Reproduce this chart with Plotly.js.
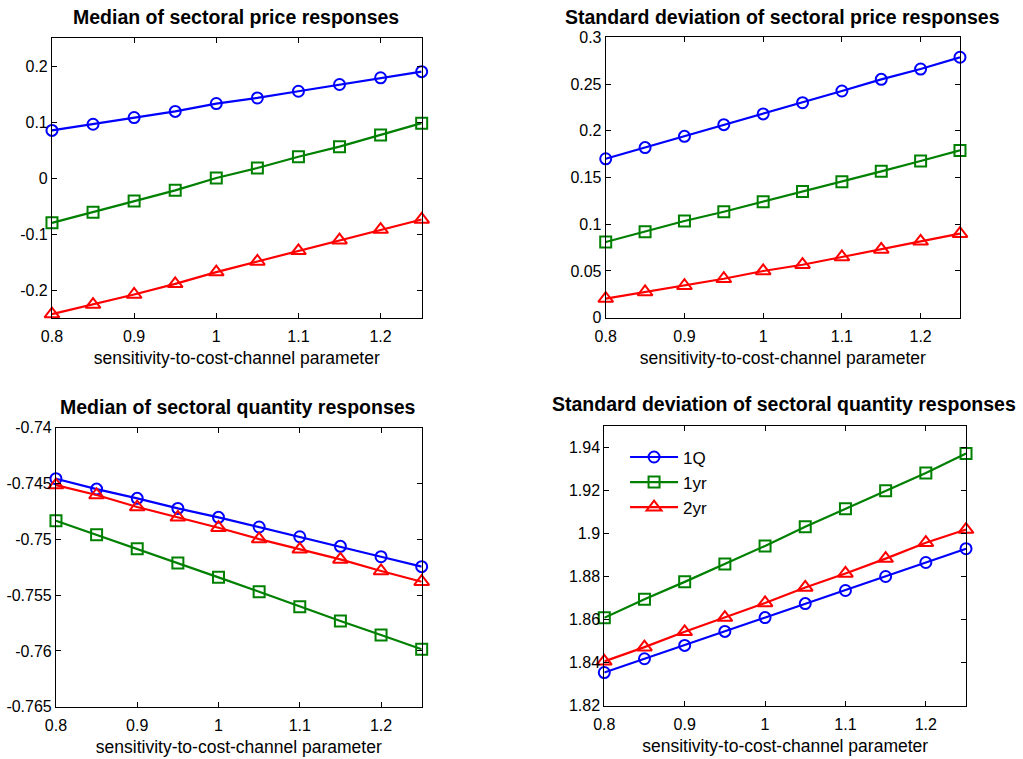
<!DOCTYPE html>
<html>
<head>
<meta charset="utf-8">
<script src="https://cdn.plot.ly/plotly-3.0.1.min.js"></script>
<style>html,body{margin:0;padding:0;background:#fff;}#chart{width:1023px;height:759px;}</style>
</head>
<body>
<div id="chart"></div>
<script>
// sensitivity-to-cost-channel parameter
const xParam = [0.8, 0.85, 0.9, 0.95, 1.0, 1.05, 1.1, 1.15, 1.2, 1.25];
const seriesNames = ['1Q', '1yr', '2yr'];

// Median of sectoral price responses
const medPrice1Q  = [0.085, 0.096, 0.108, 0.119, 0.133, 0.143, 0.155, 0.167, 0.179, 0.190];
const medPrice1yr = [-0.080, -0.061, -0.041, -0.022, 0.000, 0.018, 0.038, 0.056, 0.077, 0.098];
const medPrice2yr = [-0.243, -0.226, -0.208, -0.189, -0.168, -0.149, -0.130, -0.111, -0.092, -0.074];

// Standard deviation of sectoral price responses
const sdPrice1Q  = [0.170, 0.182, 0.194, 0.2065, 0.218, 0.230, 0.2425, 0.255, 0.266, 0.2786];
const sdPrice1yr = [0.081, 0.092, 0.1035, 0.1134, 0.124, 0.135, 0.1455, 0.1566, 0.1676, 0.179];
const sdPrice2yr = [0.0205, 0.0275, 0.0342, 0.0417, 0.050, 0.0567, 0.065, 0.073, 0.0817, 0.0899];

// Median of sectoral quantity responses
const medQty1Q  = [-0.74457, -0.74550, -0.74633, -0.74723, -0.74803, -0.74890, -0.74977, -0.75063, -0.75156, -0.75245];
const medQty1yr = [-0.74833, -0.74959, -0.75084, -0.75213, -0.75341, -0.75470, -0.75604, -0.75732, -0.75858, -0.75986];
const medQty2yr = [-0.74514, -0.74603, -0.74711, -0.74803, -0.74896, -0.74998, -0.75090, -0.75180, -0.75284, -0.75380];

// Standard deviation of sectoral quantity responses
const sdQty1Q  = [1.8354, 1.8418, 1.8480, 1.8545, 1.8609, 1.8674, 1.8735, 1.8800, 1.8865, 1.8929];
const sdQty1yr = [1.8608, 1.8694, 1.8775, 1.8858, 1.8942, 1.9031, 1.9115, 1.9198, 1.9280, 1.9371];
const sdQty2yr = [1.8406, 1.8472, 1.8543, 1.8609, 1.8677, 1.8749, 1.8814, 1.8883, 1.8957, 1.9018];

// Tick labels
const xTickVals = [0.8, 0.9, 1.0, 1.1, 1.2];
const xTickText = ['0.8', '0.9', '1', '1.1', '1.2'];
const y1TickVals = [-0.2, -0.1, 0, 0.1, 0.2];
const y1TickText = ['-0.2', '-0.1', '0', '0.1', '0.2'];
const y2TickVals = [0, 0.05, 0.1, 0.15, 0.2, 0.25, 0.3];
const y2TickText = ['0', '0.05', '0.1', '0.15', '0.2', '0.25', '0.3'];
const y3TickVals = [-0.765, -0.76, -0.755, -0.75, -0.745, -0.74];
const y3TickText = ['-0.765', '-0.76', '-0.755', '-0.75', '-0.745', '-0.74'];
const y4TickVals = [1.82, 1.84, 1.86, 1.88, 1.9, 1.92, 1.94];
const y4TickText = ['1.82', '1.84', '1.86', '1.88', '1.9', '1.92', '1.94'];

const panelTitles = [
  'Median of sectoral price responses',
  'Standard deviation of sectoral price responses',
  'Median of sectoral quantity responses',
  'Standard deviation of sectoral quantity responses'
];
const xTitle = 'sensitivity-to-cost-channel parameter';

const colors = ['#0000ff', '#008000', '#ff0000'];
const symbols = ['circle-open', 'square-open', 'triangle-up-open'];
const msizes = [11, 11, 13];

const panels = [
  [medPrice1Q, medPrice1yr, medPrice2yr],
  [sdPrice1Q, sdPrice1yr, sdPrice2yr],
  [medQty1Q, medQty1yr, medQty2yr],
  [sdQty1Q, sdQty1yr, sdQty2yr]
];

const traces = [];
panels.forEach((p, pi) => {
  const ax = pi === 0 ? '' : String(pi + 1);
  p.forEach((ys, si) => {
    traces.push({
      x: xParam, y: ys, type: 'scatter', mode: 'lines+markers',
      name: seriesNames[si],
      xaxis: 'x' + ax, yaxis: 'y' + ax,
      showlegend: pi === 3,
      line: {color: colors[si], width: 2.2},
      marker: {symbol: symbols[si], size: msizes[si], color: colors[si], line: {color: colors[si], width: 2}},
      cliponaxis: false
    });
  });
});

const font = 'Liberation Sans, Arial, sans-serif';
function xa(domain, anchor) {
  return {
    domain: domain, anchor: anchor, range: [0.8, 1.25],
    tickvals: xTickVals, ticktext: xTickText,
    ticks: 'inside', ticklen: 5, tickwidth: 1, tickcolor: '#000',
    ticklabelstandoff: 4,
    showline: true, linecolor: '#000', linewidth: 1, mirror: 'ticks',
    showgrid: false, zeroline: false,
    tickfont: {family: font, size: 16, color: '#000'},
    title: {text: xTitle, font: {family: font, size: 17.5, color: '#000'}, standoff: 7}
  };
}
function ya(domain, anchor, range, tv, tt) {
  return {
    domain: domain, anchor: anchor, range: range,
    tickvals: tv, ticktext: tt,
    ticks: 'inside', ticklen: 5, tickwidth: 1, tickcolor: '#000',
    showline: true, linecolor: '#000', linewidth: 1, mirror: 'ticks',
    showgrid: false, zeroline: false,
    tickfont: {family: font, size: 16, color: '#000'}
  };
}

const layout = {
  width: 1023, height: 759,
  margin: {l: 0, r: 0, t: 0, b: 0},
  paper_bgcolor: '#fff', plot_bgcolor: '#fff',
  font: {family: font, color: '#000'},
  xaxis:  xa([0.0508, 0.4122], 'y'),
  yaxis:  ya([0.5810, 0.9499], 'x', [-0.25, 0.25], y1TickVals, y1TickText),
  xaxis2: xa([0.5921, 0.9384], 'y2'),
  yaxis2: ya([0.5814, 0.9509], 'x2', [0, 0.3], y2TickVals, y2TickText),
  xaxis3: xa([0.0547, 0.4122], 'y3'),
  yaxis3: ya([0.0689, 0.4365], 'x3', [-0.765, -0.74], y3TickVals, y3TickText),
  xaxis4: xa([0.5907, 0.9443], 'y4'),
  yaxis4: ya([0.0702, 0.4391], 'x4', [1.82, 1.95], y4TickVals, y4TickText),
  showlegend: true,
  legend: {
    x: 0.611, y: 0.421, xanchor: 'left', yanchor: 'top',
    bgcolor: 'rgba(255,255,255,0)', borderwidth: 0,
    font: {family: font, size: 17, color: '#000'},
    itemwidth: 48,
    tracegroupgap: 0
  },
  annotations: [
    {text: '<b>' + panelTitles[0] + '</b>', x: 236, y: 17},
    {text: '<b>' + panelTitles[1] + '</b>', x: 782, y: 17},
    {text: '<b>' + panelTitles[2] + '</b>', x: 238, y: 407},
    {text: '<b>' + panelTitles[3] + '</b>', x: 784, y: 404}
  ].map(a => ({
    text: a.text, xref: 'paper', yref: 'paper',
    x: a.x / 1023, y: 1 - a.y / 759, xanchor: 'center', yanchor: 'middle',
    showarrow: false, font: {family: font, size: 19.5, color: '#000'}
  }))
};

Plotly.newPlot('chart', traces, layout, {displayModeBar: false, staticPlot: true});
</script>
</body>
</html>
